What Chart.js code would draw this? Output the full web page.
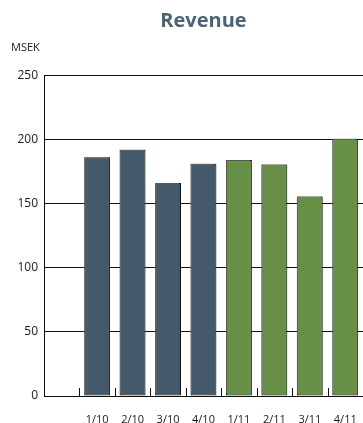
<!DOCTYPE html>
<html>
<head>
<meta charset="utf-8">
<script src="https://cdn.jsdelivr.net/npm/chart.js@4.4.0/dist/chart.umd.min.js"></script>
<style>
  html, body { margin: 0; padding: 0; background: #fff; overflow: hidden; }
  #wrap { width: 363px; height: 423px; position: relative; }
</style>
</head>
<body>
<div id="wrap"><canvas id="revenueChart"></canvas></div>
<script>
// Kvartal (första platsen lämnas tom)
const quarters = ['', '1/10', '2/10', '3/10', '4/10', '1/11', '2/11', '3/11', '4/11'];
// Omsättning i MSEK per kvartal
const revenue = [null, 186, 192, 166, 181, 184, 180.5, 155.5, 200.5];
const yTicks = [0, 50, 100, 150, 200, 250];

const slate = '#44596a';
const green = '#679046';
const barColors = quarters.map((q) => q.endsWith('/11') ? green : slate);

// Grå skugga på staplarna och korta streck mellan kategorierna
const barExtras = {
  id: 'barExtras',
  beforeDatasetsDraw(chart) {
    const c = chart.ctx;
    c.save();
    c.shadowColor = 'rgba(120,120,120,0.7)';
    c.shadowOffsetX = -1;
    c.shadowOffsetY = -1;
    c.shadowBlur = 0;
  },
  afterDatasetsDraw(chart) {
    const c = chart.ctx;
    c.restore();
    const x = chart.scales.x;
    const y0 = Math.round(chart.scales.y.getPixelForValue(0));
    c.save();
    c.strokeStyle = '#111';
    c.lineWidth = 1;
    c.beginPath();
    for (let i = 0; i <= quarters.length; i++) {
      const px = Math.round(x.getPixelForValue(i - 0.5)) + 0.5;
      c.moveTo(px, y0);
      c.lineTo(px, y0 - 8);
    }
    c.stroke();
    c.restore();
  }
};

const ctx = document.getElementById('revenueChart').getContext('2d');
const revenueChart = new Chart(ctx, {
  type: 'bar',
  data: {
    labels: quarters,
    datasets: [{
      label: 'Revenue',
      data: revenue,
      backgroundColor: barColors,
      borderColor: '#111',
      borderWidth: 1,
      borderSkipped: false,
      categoryPercentage: 1,
      barPercentage: 0.73
    }]
  },
  plugins: [barExtras],
  options: {
    responsive: true,
    maintainAspectRatio: false,
    animation: false,
    layout: { padding: { left: 11, right: 0, top: 0, bottom: 0 } },
    plugins: {
      legend: { display: false },
      tooltip: { enabled: false },
      title: {
        display: true,
        text: 'Revenue',
        fullSize: false,
        color: '#4b6375',
        font: { family: '"Open Sans", sans-serif', size: 20, weight: 'bold', lineHeight: 1.2 },
        padding: { top: 9, bottom: 0 }
      },
      subtitle: {
        display: true,
        text: 'MSEK',
        align: 'start',
        color: '#1a1a1a',
        font: { family: '"Open Sans", sans-serif', size: 11, lineHeight: 1.2 },
        padding: { top: 8, bottom: 21 }
      }
    },
    scales: {
      x: {
        offset: true,
        afterFit: (scale) => {
          scale.height = 27;
          scale.paddingLeft = 0;
          scale.paddingRight = 0;
        },
        grid: { display: false, drawTicks: false },
        border: { display: true, color: '#111', width: 1 },
        ticks: {
          padding: 17,
          color: '#1a1a1a',
          maxRotation: 0,
          autoSkip: false,
          font: { family: '"Open Sans", sans-serif', size: 11 }
        }
      },
      y: {
        min: 0,
        max: 250,
        afterBuildTicks: (scale) => { scale.ticks = yTicks.map((v) => ({ value: v })); },
        afterFit: (scale) => { scale.width = 33; },
        grid: { color: '#111', lineWidth: 1, drawTicks: false },
        border: { display: true, color: '#111', width: 1 },
        ticks: {
          padding: 6,
          color: '#1a1a1a',
          font: { family: '"Open Sans", sans-serif', size: 12 }
        }
      }
    }
  }
});
</script>
</body>
</html>
